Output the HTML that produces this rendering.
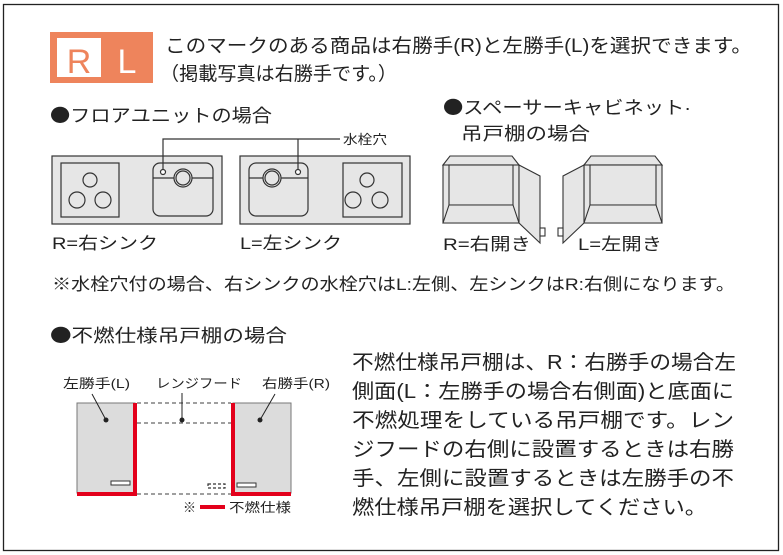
<!DOCTYPE html>
<html><head><meta charset="utf-8"><style>
html,body{margin:0;padding:0;background:#fff;}
svg{display:block;font-family:"Liberation Sans","Noto Sans CJK JP",sans-serif;}
.b{font-family:"Noto Sans CJK JP",sans-serif;}
</style></head><body>
<svg width="783" height="555" viewBox="0 0 783 555" xmlns="http://www.w3.org/2000/svg">
<rect x="3.5" y="4.5" width="775" height="546" fill="#fff" stroke="#222" stroke-width="1.3"/>
<rect x="50" y="32" width="103" height="51" fill="#ee845c"/>
<rect x="57" y="38" width="44" height="39" fill="#fff"/>
<text x="79" y="73" font-size="34" fill="#ee845c" text-anchor="middle">R</text>
<text x="127" y="73" font-size="34" fill="#fff" text-anchor="middle">L</text>
<g fill="#222">
<text x="165" y="52" font-size="19" textLength="587" lengthAdjust="spacingAndGlyphs">このマークのある商品は右勝手(R)と左勝手(L)を選択できます。</text>
<text x="160" y="80" font-size="19" textLength="237" lengthAdjust="spacingAndGlyphs">（掲載写真は右勝手です。）</text>
<text x="50" y="122" font-size="18" textLength="222" lengthAdjust="spacingAndGlyphs"><tspan class="b">●</tspan>フロアユニットの場合</text>
<text x="443" y="114" font-size="18" textLength="248" lengthAdjust="spacingAndGlyphs"><tspan class="b">●</tspan>スペーサーキャビネット·</text>
<text x="461" y="140" font-size="18" textLength="129" lengthAdjust="spacingAndGlyphs">吊戸棚の場合</text>
<text x="343" y="144" font-size="13" textLength="44" lengthAdjust="spacingAndGlyphs">水栓穴</text>
<text x="52" y="249" font-size="17" textLength="106" lengthAdjust="spacingAndGlyphs">R=右シンク</text>
<text x="240" y="249" font-size="17" textLength="102" lengthAdjust="spacingAndGlyphs">L=左シンク</text>
<text x="443" y="250" font-size="17" textLength="88" lengthAdjust="spacingAndGlyphs">R=右開き</text>
<text x="578" y="250" font-size="17" textLength="84" lengthAdjust="spacingAndGlyphs">L=左開き</text>
<text x="52" y="290" font-size="17" textLength="683" lengthAdjust="spacingAndGlyphs">※水栓穴付の場合、右シンクの水栓穴はL:左側、左シンクはR:右側になります。</text>
<text x="50" y="342" font-size="18" textLength="237" lengthAdjust="spacingAndGlyphs"><tspan class="b">●</tspan>不燃仕様吊戸棚の場合</text>
<text x="63" y="388" font-size="13" textLength="67" lengthAdjust="spacingAndGlyphs">左勝手(L)</text>
<text x="156" y="388" font-size="13" textLength="86" lengthAdjust="spacingAndGlyphs">レンジフード</text>
<text x="262" y="388" font-size="13" textLength="68" lengthAdjust="spacingAndGlyphs">右勝手(R)</text>
<text x="183" y="512" font-size="13">※</text>
<text x="229" y="512" font-size="13" textLength="62" lengthAdjust="spacingAndGlyphs">不燃仕様</text>
<g font-size="20">
<text x="352" y="369" textLength="384" lengthAdjust="spacingAndGlyphs">不燃仕様吊戸棚は、R：右勝手の場合左</text>
<text x="352" y="398" textLength="382" lengthAdjust="spacingAndGlyphs">側面(L：左勝手の場合右側面)と底面に</text>
<text x="352" y="427" textLength="382" lengthAdjust="spacingAndGlyphs">不燃処理をしている吊戸棚です。レン</text>
<text x="352" y="456" textLength="382" lengthAdjust="spacingAndGlyphs">ジフードの右側に設置するときは右勝</text>
<text x="352" y="485" textLength="382" lengthAdjust="spacingAndGlyphs">手、左側に設置するときは左勝手の不</text>
<text x="352" y="514" textLength="355" lengthAdjust="spacingAndGlyphs">燃仕様吊戸棚を選択してください。</text>
</g>
</g>
<g stroke="#333" stroke-width="1.2" fill="#e6e6e6">
<rect x="52" y="156" width="170" height="68"/>
<rect x="240" y="156" width="170" height="68"/>
<rect x="61" y="163" width="58" height="54"/>
<rect x="343" y="163" width="59" height="54"/>
<rect x="153" y="163" width="60" height="53" rx="7"/>
<rect x="249" y="163" width="59" height="53" rx="7"/>
<circle cx="90" cy="180" r="7"/><circle cx="77" cy="200" r="8"/><circle cx="103" cy="200" r="8"/>
<circle cx="367" cy="180" r="7"/><circle cx="353" cy="200" r="8"/><circle cx="380" cy="200" r="8"/>
<line x1="153" y1="178" x2="213" y2="178"/><line x1="249" y1="178" x2="308" y2="178"/>
<circle cx="183" cy="178" r="9"/><circle cx="183" cy="178" r="7"/>
<circle cx="272" cy="178" r="9"/><circle cx="272" cy="178" r="7"/>
<circle cx="163" cy="172" r="2.5" fill="#fff"/><circle cx="298" cy="172" r="2.5" fill="#fff"/>
<polyline points="163,169.5 163,139 340,139" fill="none"/>
<line x1="298" y1="169.5" x2="298" y2="139"/>
</g>
<g stroke="#333" stroke-width="1.1" fill="#e6e6e6">
<polygon points="443,165 450,156 512,156 519,165"/>
<rect x="443" y="165" width="76" height="58"/>
<rect x="449" y="165" width="64" height="40"/>
<polygon points="449,205 513,205 519,223 443,223"/>
<polygon points="519,165 540,176 540,243 519,223"/>
<rect x="540" y="228" width="5" height="8" fill="#fff"/>
<polygon points="584,165 591,156 655,156 662,165"/>
<rect x="584" y="165" width="78" height="58"/>
<rect x="590" y="165" width="66" height="40"/>
<polygon points="590,205 656,205 662,223 584,223"/>
<polygon points="584,165 563,176 563,243 584,223"/>
<rect x="558" y="228" width="5" height="8" fill="#fff"/>
</g>
<g stroke="#666" stroke-width="1.2" stroke-dasharray="4,3" fill="none">
<line x1="137" y1="403" x2="231" y2="403"/>
<line x1="137" y1="423" x2="231" y2="423"/>
<line x1="137" y1="494" x2="231" y2="494"/>
<rect x="208" y="484" width="17" height="4" stroke="#333" stroke-dasharray="3,2"/>
</g>
<rect x="77" y="403" width="58" height="90" fill="#dcdcdc" stroke="#777"/>
<rect x="233" y="403" width="58" height="90" fill="#dcdcdc" stroke="#777"/>
<rect x="133" y="403" width="4" height="93" fill="#e3001b"/>
<rect x="77" y="492" width="60" height="4" fill="#e3001b"/>
<rect x="231" y="403" width="4" height="93" fill="#e3001b"/>
<rect x="231" y="492" width="60" height="4" fill="#e3001b"/>
<rect x="111" y="481" width="19" height="4" fill="#fff" stroke="#333"/>
<rect x="237" y="483" width="19" height="4" fill="#fff" stroke="#333"/>
<rect x="200" y="505" width="25" height="4" fill="#e3001b"/>
<g stroke="#222" stroke-width="1">
<line x1="92" y1="394" x2="106" y2="420"/>
<line x1="182" y1="393" x2="182" y2="420"/>
<line x1="275" y1="394" x2="260" y2="420"/>
</g>
<g fill="#222"><circle cx="106" cy="420" r="2.5"/><circle cx="182" cy="420" r="2.5"/><circle cx="260" cy="420" r="2.5"/></g>
</svg>
</body></html>
